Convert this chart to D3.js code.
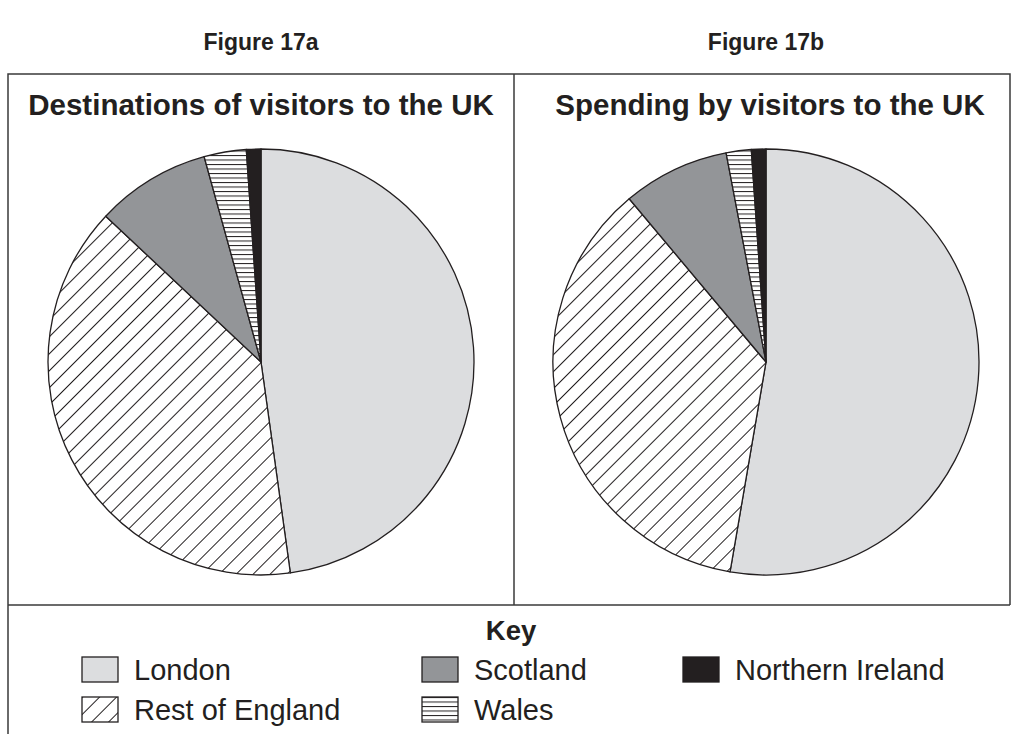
<!DOCTYPE html>
<html>
<head>
<meta charset="utf-8">
<script src="https://cdn.jsdelivr.net/npm/d3@7"></script>
<style>
  body { margin: 0; background: #fff; }
  text { font-family: "Liberation Sans", Arial, sans-serif; fill: #231f20; }
</style>
</head>
<body>
<script>
const regions = ['London', 'Rest of England', 'Scotland', 'Wales', 'Northern Ireland'];
const destinations = [47.8, 39.2, 8.7, 3.2, 1.1];
const spending = [52.7, 36.2, 8.1, 1.9, 1.1];
const figureLabels = ['Figure 17a', 'Figure 17b'];
const chartTitles = ['Destinations of visitors to the UK', 'Spending by visitors to the UK'];

const ink = '#231f20';

const svg = d3.select('body').append('svg')
              .attr('width', 1011)
              .attr('height', 734);

const defs = svg.append('defs');
defs.append('pattern').attr('id', 'diag')
    .attr('patternUnits', 'userSpaceOnUse')
    .attr('width', 12).attr('height', 12)
    .attr('patternTransform', 'rotate(45)')
  .call(p => {
    p.append('rect').attr('width', 12).attr('height', 12).style('fill', '#fff');
    p.append('line').attr('x1', 0).attr('y1', 0).attr('x2', 0).attr('y2', 12)
     .style('stroke', ink).style('stroke-width', 2);
  });
defs.append('pattern').attr('id', 'horiz')
    .attr('patternUnits', 'userSpaceOnUse')
    .attr('width', 10).attr('height', 4.5)
  .call(p => {
    p.append('rect').attr('width', 10).attr('height', 4.5).style('fill', '#fff');
    p.append('line').attr('x1', 0).attr('y1', 0.5).attr('x2', 10).attr('y2', 0.5)
     .style('stroke', ink).style('stroke-width', 1);
  });

const fill = d3.scaleOrdinal()
               .domain(regions)
               .range(['#dcdddf', 'url(#diag)', '#939598', 'url(#horiz)', ink]);

// frame
const frame = svg.append('g').style('stroke', '#3a3a3a').style('stroke-width', 1.5).style('fill', 'none');
frame.append('path').attr('d', 'M8,734 V74 H1010 V605');
frame.append('line').attr('x1', 514).attr('x2', 514).attr('y1', 74).attr('y2', 605);
frame.append('line').attr('x1', 8).attr('x2', 1010).attr('y1', 605).attr('y2', 605);

const x = d3.scalePoint().domain([0, 1]).range([261, 766]);
const pie = d3.pie().sort(null);
const arc = d3.arc().innerRadius(0).outerRadius(213);

[destinations, spending].forEach((vals, k) => {
  svg.append('text').attr('x', x(k)).attr('y', 50)
     .attr('text-anchor', 'middle').style('font-weight', 'bold').style('font-size', '23px')
     .text(figureLabels[k]);
  svg.append('text').attr('x', k ? 770 : 261).attr('y', 115)
     .attr('text-anchor', 'middle').style('font-weight', 'bold').style('font-size', '29.5px')
     .text(chartTitles[k]);

  const g = svg.append('g').attr('transform', `translate(${x(k)},362)`);
  g.selectAll('path')
   .data(pie(vals))
   .join('path')
   .attr('d', arc)
   .style('fill', (d, i) => fill(regions[i]))
   .style('stroke', ink)
   .style('stroke-width', 1.3)
   .style('stroke-linejoin', 'round');
});

// key
svg.append('text').attr('x', 511).attr('y', 640)
   .attr('text-anchor', 'middle').style('font-weight', 'bold').style('font-size', '27.5px')
   .text('Key');

const colX = [82, 422, 683];
const rowY = [657, 697];
const key = svg.selectAll('g.key')
               .data(regions)
               .join('g').attr('class', 'key')
               .attr('transform', (d, i) => `translate(${colX[Math.floor(i / 2)]},${rowY[i % 2]})`);
key.append('rect')
   .attr('width', 36).attr('height', 25)
   .style('fill', d => fill(d))
   .style('stroke', ink).style('stroke-width', 1.3);
key.append('text')
   .attr('x', 52).attr('y', 23)
   .style('font-size', '29px')
   .text(d => d);
</script>
</body>
</html>
